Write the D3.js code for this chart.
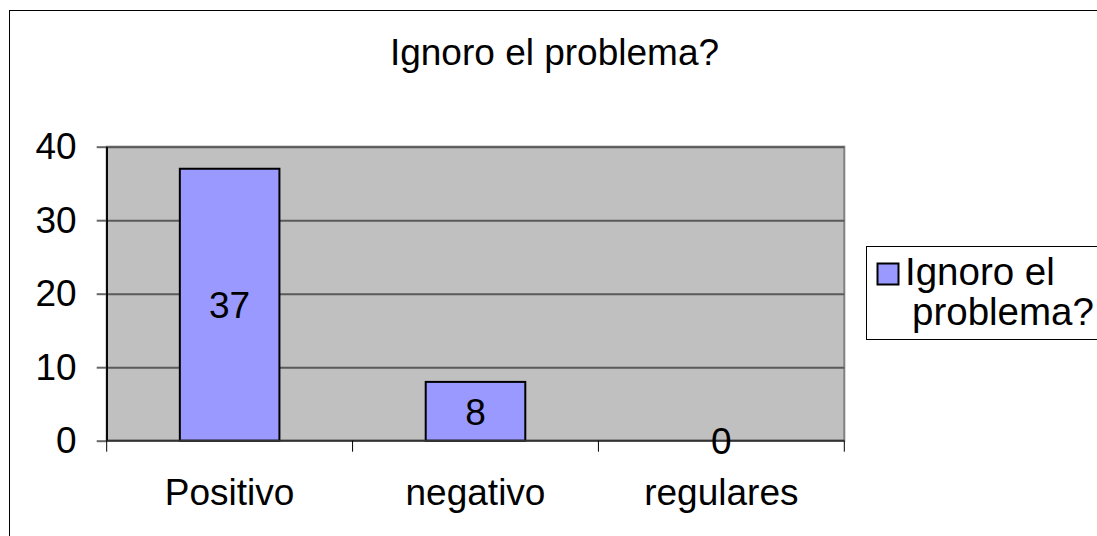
<!DOCTYPE html>
<html><head><meta charset="utf-8">
<script src="https://cdn.jsdelivr.net/npm/d3@7"></script>
<style>body{margin:0;background:#fff;overflow:hidden}svg{display:block}text{font-family:"Liberation Sans",Arial,sans-serif}</style>
</head><body><svg id="c" width="1097" height="536"></svg>
<script>
const title = "Ignoro el problema?";
const categories = ["Positivo", "negativo", "regulares"];
const values = [37, 8, 0];
const yTicks = [0, 10, 20, 30, 40];
const seriesName = ["Ignoro el", "problema?"];

const svg = d3.select("#c");
const L = 106.7, R = 844.3, T = 146.7, B = 440.7;
const fs = 37;

// outer chart border (clipped at right/bottom)
svg.append("rect").attr("x", 9.5).attr("y", 10.5).attr("width", 1120).attr("height", 560)
  .attr("fill", "#fff").attr("stroke", "#000").attr("stroke-width", 1);

const y = d3.scaleLinear().domain([0, 40]).range([B, T]);
const x = d3.scaleBand().domain(categories).range([L, R]).paddingInner(0.595).paddingOuter(0.2975);

// plot area
svg.append("rect").attr("x", L).attr("y", T).attr("width", R - L).attr("height", B - T)
  .attr("fill", "#c0c0c0").attr("stroke", "#808080").attr("stroke-width", 2);

// gridlines
const grid = svg.append("g").attr("transform", `translate(${L},0)`)
  .call(d3.axisLeft(y).tickValues(yTicks.filter(v => v > 0)).tickSize(-(R - L)).tickFormat(""));
grid.select(".domain").remove();
grid.selectAll("line").attr("stroke", "#5a5a5a").attr("stroke-width", 2);

// y axis
const ya = svg.append("g").attr("transform", `translate(${L},0)`)
  .call(d3.axisLeft(y).tickValues(yTicks).tickSize(10).tickSizeOuter(0).tickPadding(20));
ya.select(".domain").attr("stroke", "#000").attr("stroke-width", 1.5);
ya.selectAll(".tick line").attr("stroke", "#666").attr("stroke-width", 2);
ya.selectAll("text").attr("font-size", fs).attr("fill", "#000").attr("font-family", "Liberation Sans, Arial, sans-serif");

// bars
svg.append("g").selectAll("rect").data(values).join("rect")
  .attr("x", (d, i) => x(categories[i]))
  .attr("y", d => y(d))
  .attr("width", x.bandwidth())
  .attr("height", d => y(0) - y(d))
  .attr("fill", "#9999ff").attr("stroke", "#000").attr("stroke-width", 2)
  .attr("display", d => d > 0 ? null : "none");

// x axis line
svg.append("line").attr("x1", L).attr("x2", R).attr("y1", B).attr("y2", B)
  .attr("stroke", "#333").attr("stroke-width", 2);
// x axis ticks at category boundaries
const bounds = d3.range(categories.length + 1).map(i => L + i * x.step());
svg.append("g").selectAll("line").data(bounds).join("line")
  .attr("x1", d => d).attr("x2", d => d)
  .attr("y1", (d, i) => i === 0 ? T : B).attr("y2", B + 11)
  .attr("stroke", "#000").attr("stroke-width", 1);

// x labels
svg.append("g").selectAll("text").data(categories).join("text")
  .attr("x", d => x(d) + x.bandwidth() / 2).attr("y", 505)
  .attr("text-anchor", "middle").attr("font-size", fs).text(d => d);

// data labels
svg.append("g").selectAll("text").data(values).join("text")
  .attr("x", (d, i) => x(categories[i]) + x.bandwidth() / 2)
  .attr("y", d => (y(d) + y(0)) / 2)
  .attr("dy", "0.36em")
  .attr("text-anchor", "middle").attr("font-size", fs).text(d => d);

// title
svg.append("text").attr("x", 554.5).attr("y", 64.5).attr("text-anchor", "middle")
  .attr("font-size", fs).text(title);

// legend
svg.append("rect").attr("x", 866.5).attr("y", 246.5).attr("width", 260).attr("height", 93)
  .attr("fill", "#fff").attr("stroke", "#000").attr("stroke-width", 1);
svg.append("rect").attr("x", 877.5).attr("y", 263.5).attr("width", 21).attr("height", 21)
  .attr("fill", "#9999ff").attr("stroke", "#000").attr("stroke-width", 2);
svg.append("text").attr("x", 905).attr("y", 285).attr("font-size", 38.5).text(seriesName[0]);
svg.append("text").attr("x", 912).attr("y", 325).attr("font-size", 38.5).text(seriesName[1]);
</script></body></html>
